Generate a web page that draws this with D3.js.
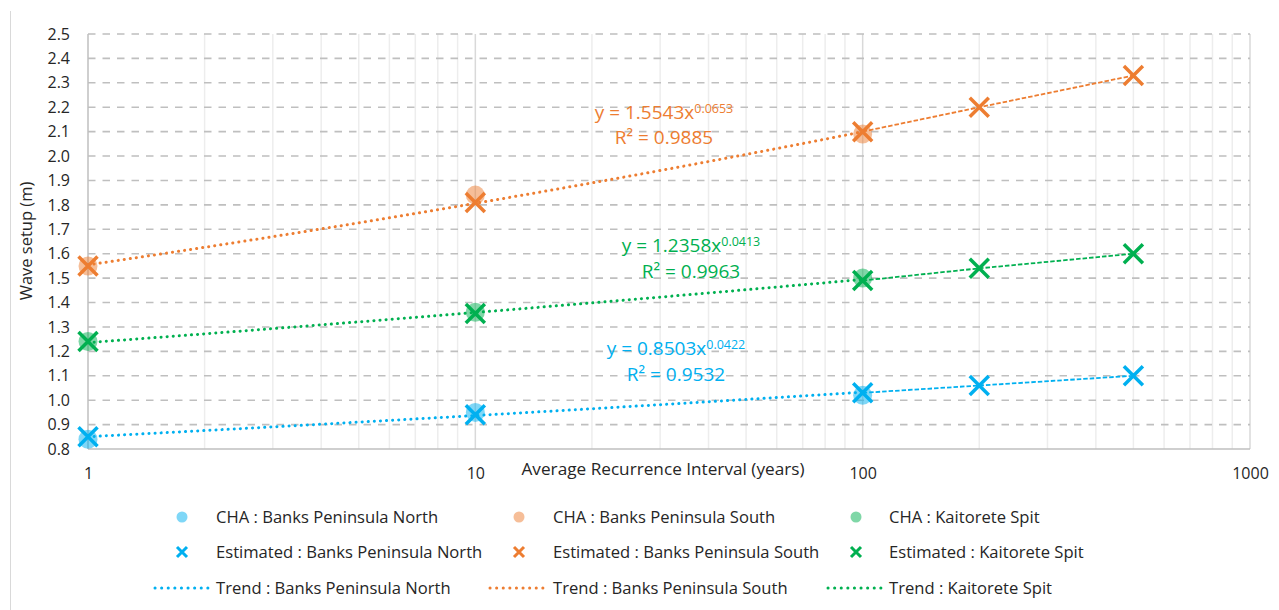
<!DOCTYPE html>
<html>
<head>
<meta charset="utf-8">
<script src="https://cdn.jsdelivr.net/npm/d3@7"></script>
<style>
  html, body { margin: 0; padding: 0; background: #fff; }
  svg { display: block; font-family: "Open Sans", "Noto Sans", sans-serif; }
</style>
</head>
<body>
<svg id="chart" width="1279" height="610"></svg>
<script>
// Wave setup versus average recurrence interval for three coastal sites
const chaYears = [1, 10, 100];
const estYears = [1, 10, 100, 200, 500];

const chaNorth = [0.84, 0.95, 1.02];
const chaSouth = [1.55, 1.84, 2.09];
const chaKaitorete = [1.24, 1.36, 1.50];

const estNorth = [0.85, 0.94, 1.03, 1.06, 1.10];
const estSouth = [1.55, 1.81, 2.10, 2.20, 2.33];
const estKaitorete = [1.24, 1.355, 1.49, 1.54, 1.60];

// power-law trend fits y = a * x^b with their R² values
const trendA = [0.8503, 1.5543, 1.2358];
const trendB = [0.0422, 0.0653, 0.0413];
const trendR2 = ["0.9532", "0.9885", "0.9963"];

const siteNames = ["Banks Peninsula North", "Banks Peninsula South", "Kaitorete Spit"];
const siteColors = ["#00B0F0", "#ED7D31", "#00B050"];

const xTickValues = [1, 10, 100, 1000];
const yTickValues = [0.8, 0.9, 1.0, 1.1, 1.2, 1.3, 1.4, 1.5, 1.6, 1.7, 1.8, 1.9, 2.0, 2.1, 2.2, 2.3, 2.4, 2.5];

const chaSeries = [chaNorth, chaSouth, chaKaitorete];
const estSeries = [estNorth, estSouth, estKaitorete];

const svg = d3.select("#chart");
const plot = { left: 88, right: 1250, top: 34, bottom: 449 };

const x = d3.scaleLog().domain([1, 1000]).range([plot.left, plot.right]);
const y = d3.scaleLinear().domain([0.8, 2.5]).range([plot.bottom, plot.top]);

// outer chart border edge
svg.append("line").attr("x1", 10.5).attr("x2", 10.5).attr("y1", 11).attr("y2", 610)
  .attr("stroke", "#d9d9d9").attr("stroke-width", 1);

// minor vertical gridlines
const minorTicks = [];
[1, 10, 100].forEach(d => { for (let k = 2; k <= 9; k++) minorTicks.push(d * k); });
svg.append("g").selectAll("line").data(minorTicks).join("line")
  .attr("x1", d => x(d)).attr("x2", d => x(d))
  .attr("y1", plot.top).attr("y2", plot.bottom)
  .attr("stroke", "#ededed").attr("stroke-width", 1.5);

// major vertical gridlines
svg.append("g").selectAll("line").data([10, 100, 1000]).join("line")
  .attr("x1", d => x(d)).attr("x2", d => x(d))
  .attr("y1", plot.top).attr("y2", plot.bottom)
  .attr("stroke", "#d9d9d9").attr("stroke-width", 1.5);

// horizontal dashed gridlines
svg.append("g").selectAll("line").data(yTickValues.slice(1)).join("line")
  .attr("x1", plot.left).attr("x2", plot.right)
  .attr("y1", d => y(d)).attr("y2", d => y(d))
  .attr("stroke", "#bfbfbf").attr("stroke-width", 1.6)
  .attr("stroke-dasharray", "7.5 7");

// axis lines
svg.append("line").attr("x1", plot.left).attr("x2", plot.left)
  .attr("y1", plot.top).attr("y2", plot.bottom)
  .attr("stroke", "#bfbfbf").attr("stroke-width", 1.5);
svg.append("line").attr("x1", plot.left).attr("x2", plot.right)
  .attr("y1", plot.bottom).attr("y2", plot.bottom)
  .attr("stroke", "#bfbfbf").attr("stroke-width", 1.5);

// y axis tick labels
const yAxis = d3.axisLeft(y).tickValues(yTickValues).tickFormat(d3.format(".1f")).tickSize(0).tickPadding(18);
const gy = svg.append("g").attr("transform", `translate(${plot.left},0)`).call(yAxis);
gy.select(".domain").remove();
gy.selectAll("text").attr("font-size", 16).attr("fill", "#262626")
  .attr("font-family", "'Open Sans', sans-serif");

// x axis tick labels
const xAxis = d3.axisBottom(x).tickValues(xTickValues).tickFormat(d3.format("d")).tickSize(0).tickPadding(19);
const gx = svg.append("g").attr("transform", `translate(0,${plot.bottom})`).call(xAxis);
gx.select(".domain").remove();
gx.selectAll("text").attr("font-size", 16).attr("fill", "#262626")
  .attr("font-family", "'Open Sans', sans-serif");

// axis titles
svg.append("text").attr("x", 663).attr("y", 469).attr("dy", "0.35em")
  .attr("text-anchor", "middle").attr("font-size", 17.2).attr("fill", "#262626")
  .text("Average Recurrence Interval (years)");
svg.append("text").attr("transform", "translate(26,241) rotate(-90)")
  .attr("dy", "0.35em").attr("text-anchor", "middle")
  .attr("font-size", 16.5).attr("fill", "#262626")
  .text("Wave setup (m)");

// trend curves (dotted) over the CHA range
const trendLine = d3.line().x(d => x(d[0])).y(d => y(d[1]));
const trendXs = d3.range(0, 2.0001, 0.02).map(e => Math.pow(10, e));
siteColors.forEach((c, i) => {
  const pts = trendXs.map(v => [v, trendA[i] * Math.pow(v, trendB[i])]);
  svg.append("path").attr("d", trendLine(pts))
    .attr("fill", "none").attr("stroke", c).attr("stroke-width", 3)
    .attr("stroke-linecap", "round").attr("stroke-dasharray", "0.1 6");
});

// dashed connector through estimated points beyond the CHA range
siteColors.forEach((c, i) => {
  const pts = estYears.map((v, j) => [v, estSeries[i][j]]).filter(p => p[0] >= 100);
  svg.append("path").attr("d", trendLine(pts))
    .attr("fill", "none").attr("stroke", c).attr("stroke-width", 1.8)
    .attr("stroke-dasharray", "4.5 2");
});

// CHA circles
siteColors.forEach((c, i) => {
  svg.append("g").selectAll("circle").data(chaYears.map((v, j) => [v, chaSeries[i][j]])).join("circle")
    .attr("cx", d => x(d[0])).attr("cy", d => y(d[1])).attr("r", 9.5)
    .attr("fill", c).attr("fill-opacity", 0.5);
});

// estimated crosses
function cross(g, cx, cy, h, color, w) {
  g.append("path")
    .attr("d", `M${cx - h},${cy - h}L${cx + h},${cy + h}M${cx - h},${cy + h}L${cx + h},${cy - h}`)
    .attr("stroke", color).attr("stroke-width", w).attr("fill", "none");
}
siteColors.forEach((c, i) => {
  const g = svg.append("g");
  estYears.forEach((v, j) => cross(g, x(v), y(estSeries[i][j]), 9.5, c, 3.5));
});

// trend equations
const eqPos = [[676, 348, 374], [664, 112, 137], [691, 245, 271]];
siteColors.forEach((c, i) => {
  const t = svg.append("text").attr("x", eqPos[i][0]).attr("y", eqPos[i][1]).attr("dy", "0.35em")
    .attr("text-anchor", "middle").attr("font-size", 19).attr("fill", c);
  t.append("tspan").text(`y = ${trendA[i].toFixed(4)}x`);
  t.append("tspan").attr("dy", "-0.45em").attr("font-size", 12.5).text(trendB[i].toFixed(4));
  svg.append("text").attr("x", eqPos[i][0]).attr("y", eqPos[i][2]).attr("dy", "0.35em")
    .attr("text-anchor", "middle").attr("font-size", 19).attr("fill", c)
    .text(`R² = ${trendR2[i]}`);
});

// legend
const legCols = [[182, 216, 155, 208], [519, 553, 490, 545], [856, 889, 828, 882]];
const legRows = [517, 552, 588];
siteColors.forEach((c, i) => {
  const [mx, tx, lx0, lx1] = legCols[i];
  svg.append("circle").attr("cx", mx).attr("cy", legRows[0]).attr("r", 5.5)
    .attr("fill", c).attr("fill-opacity", 0.5);
  cross(svg, mx, legRows[1], 5, c, 3);
  svg.append("line").attr("x1", lx0).attr("x2", lx1).attr("y1", legRows[2]).attr("y2", legRows[2])
    .attr("stroke", c).attr("stroke-width", 3).attr("stroke-linecap", "round")
    .attr("stroke-dasharray", "0.1 6.5");
  const labels = [`CHA : ${siteNames[i]}`, `Estimated : ${siteNames[i]}`, `Trend : ${siteNames[i]}`];
  labels.forEach((lab, r) => {
    svg.append("text").attr("x", tx).attr("y", legRows[r]).attr("dy", "0.35em")
      .attr("font-size", 16.6).attr("fill", "#262626").text(lab);
  });
});
</script>
</body>
</html>
